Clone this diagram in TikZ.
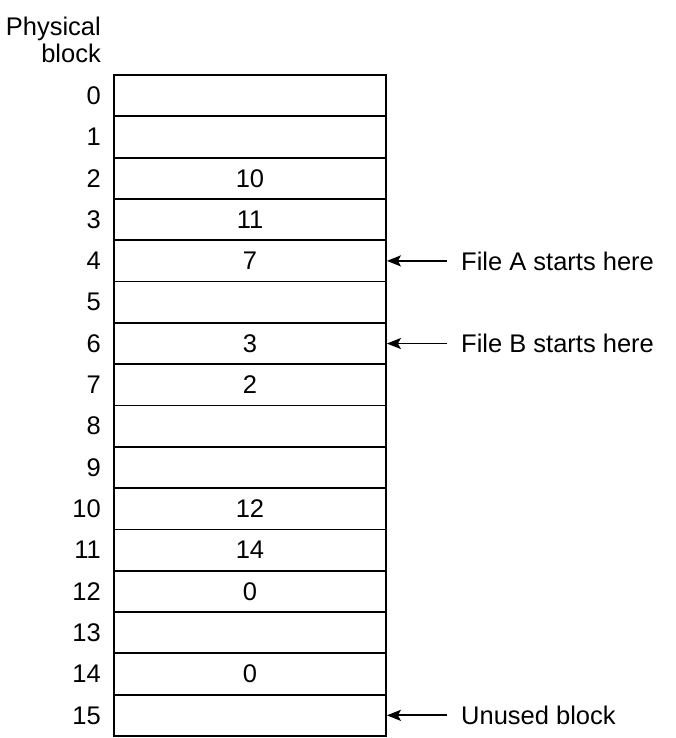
\documentclass[tikz,border=0pt]{standalone}
\usepackage{fontspec}
\setmainfont{Liberation Sans}
\usetikzlibrary{arrows.meta}
\begin{document}
\begin{tikzpicture}[x=1pt,y=-1pt,
  txt/.style={font=\fontsize{25.5}{27}\selectfont, inner sep=0pt},
  cell/.style={draw, line width=1.8pt, minimum width=272pt, minimum height=41.31pt, inner sep=0pt, font=\fontsize{25.5}{27}\selectfont},
  lbl/.style={txt, anchor=east},
  arr/.style={line width=1.8pt, -{Stealth[length=14pt,width=11pt,inset=3pt]}}]
\useasboundingbox (0,0) rectangle (675,738);
\node[txt, anchor=base east] (ph1) at (101,36) {Physical};
\node[txt, anchor=base east] (ph2) at (101,63) {block};
\foreach \i/\v in {0/,1/,2/10,3/11,4/7,5/,6/3,7/2,8/,9/,10/12,11/14,12/0,13/,14/0,15/} {
  \node[cell] (r\i) at (250,{75+41.3125*(\i+0.5)}) {\v};
  \node[lbl] (n\i) at (101,{75+41.3125*(\i+0.5)}) {\i};
}
\node[txt, anchor=west] (la) at (461,{75+41.3125*4.5}) {File A starts here};
\node[txt, anchor=west] (lb) at (461,{75+41.3125*6.5}) {File B starts here};
\node[txt, anchor=west] (lu) at (461,{75+41.3125*15.5}) {Unused block};
\draw[arr] ([xshift=-14pt]la.west) -- (r4.east);
\draw[arr] ([xshift=-14pt]lb.west) -- (r6.east);
\draw[arr] ([xshift=-14pt]lu.west) -- (r15.east);
\end{tikzpicture}
\end{document}
